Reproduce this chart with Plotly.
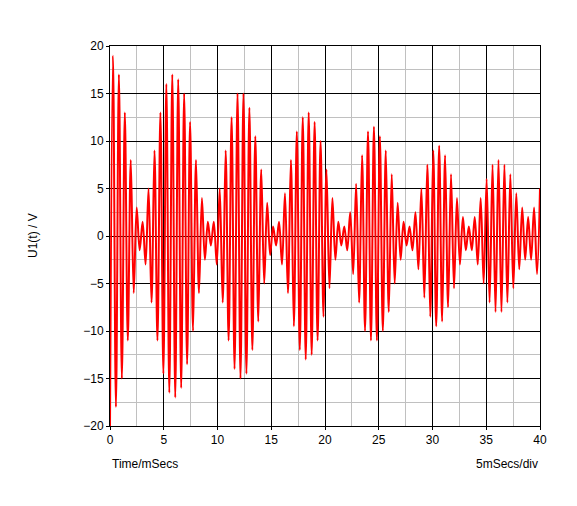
import plotly.graph_objects as go

# peak values of U1(t), one per half period
u1_peaks = [
    -20, 19, -18, 17, -15, 13, -11, 8, -6, 3, -1.5,
    1.5, -3, 5, -7, 9, -11, 13, -14.5, 16, -16.5, 17, -17, 16.5, -16, 15, -13.5, 12, -10, 8, -6, 4, -2.5, 1.5, -1,
    1.5, -3, 5, -7, 9, -11, 12.5, -14, 15, -15, 15, -14.5, 13.5, -12, 10.5, -9, 7, -5, 3.5, -2, 1, -1,
    1.5, -3, 4.5, -6, 8, -9.5, 11, -12, 12.5, -13, 13, -12.5, 12, -11, 10, -8.5, 7, -5.5, 4, -2.5, 1.5, -1, 1, -1.5,
    2.5, -4, 5.5, -7, 8.5, -10, 11, -11, 11.5, -11, 10.5, -10, 9, -8, 6.5, -5, 3.5, -2.5, 1.5, -1, 1, -1.5, 2.5,
    -3.5, 5, -6.5, 7.5, -8.5, 9, -9.5, 9.5, -9, 8.5, -7.5, 6.5, -5.5, 4, -3, 2, -1.5, 1, -1.5, 2, -3, 4,
    -5, 6, -7, 7.5, -8, 8, -8, 7.5, -7, 6.5, -5.5, 4.5, -3.5, 3, -2.5, 2, -2.5, 3, -4, 5,
]
t_end_ms = 40
t_ms = [i * t_end_ms / (len(u1_peaks) - 1) for i in range(len(u1_peaks))]

fig = go.Figure(go.Scatter(x=t_ms, y=u1_peaks, mode="lines",
                           line=dict(color="#ff0000", width=2, shape="spline")))

ax = dict(showline=True, linecolor="black", mirror=True, gridcolor="black", gridwidth=1,
          zeroline=False, ticks="outside", ticklen=3, tickcolor="black",
          minor=dict(dtick=2.5, showgrid=True, gridcolor="#c0c0c0"))
fig.update_xaxes(range=[0, 40], dtick=5, **ax)
fig.update_yaxes(range=[-20, 20], dtick=5, **ax)

fig.update_layout(
    width=577, height=506, margin=dict(l=102, r=45, t=38, b=88),
    paper_bgcolor="white", plot_bgcolor="white", showlegend=False,
    font=dict(family="Liberation Sans, Arial", size=12, color="black"),
    annotations=[
        dict(text="U1(t) / V", x=-0.2, y=0.5, xref="paper", yref="paper", showarrow=False,
             textangle=-90, font=dict(size=12)),
        dict(text="Time/mSecs", x=0, y=-0.1, xref="paper", yref="paper", showarrow=False,
             xanchor="left", yanchor="middle"),
        dict(text="5mSecs/div", x=1, y=-0.1, xref="paper", yref="paper", showarrow=False,
             xanchor="right", yanchor="middle"),
    ],
)
fig.write_html("out.html")
